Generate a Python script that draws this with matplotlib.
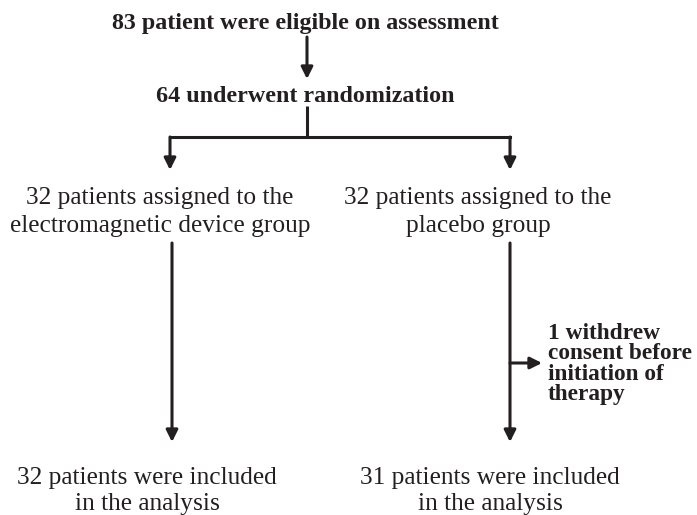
import matplotlib
matplotlib.use("Agg")
import matplotlib.pyplot as plt

# flowchart labels
top_label = "83 patient were eligible on assessment"
random_label = "64 underwent randomization"
group_labels = ["32 patients assigned to the\nelectromagnetic device group",
                "32 patients assigned to the\nplacebo group"]
withdrawn_label = "1 withdrew\nconsent before\ninitiation of\ntherapy"
analysis_labels = ["32 patients were included\nin the analysis",
                   "31 patients were included\nin the analysis"]

fig = plt.figure(figsize=(6.97, 5.15), dpi=100)
ax = fig.add_axes([0, 0, 1, 1])
ax.set_xlim(0, 697)
ax.set_ylim(515, 0)
ax.axis("off")

font = dict(family="Liberation Serif", color="#231f20")
lw = 2.2
col = "#231f20"


def arrow(x0, y0, x1, y1):
    ax.annotate("", xy=(x1, y1), xytext=(x0, y0),
                arrowprops=dict(arrowstyle="-|>,head_length=0.7,head_width=0.35",
                                lw=lw, color=col, shrinkA=0, shrinkB=0))


ax.text(305, 23, top_label, ha="center", va="center", fontsize=17.3, fontweight="bold", **font)
arrow(307, 37, 307, 79)
ax.text(305, 96, random_label, ha="center", va="center", fontsize=17.3, fontweight="bold", **font)

ax.plot([307, 307], [106, 138], color=col, lw=lw, solid_capstyle="butt")
ax.plot([170, 510], [137, 137], color=col, lw=lw, solid_capstyle="projecting")
arrow(170, 137, 170, 170)
arrow(510, 137, 510, 170)

ax.text(160, 212, group_labels[0], ha="center", va="center", fontsize=18.3,
        linespacing=1.35, **font)
ax.text(478, 212, group_labels[1], ha="center", va="center", fontsize=18.3,
        linespacing=1.35, **font)

arrow(172, 243, 172, 442)
arrow(510, 243, 510, 442)
arrow(510, 363, 542, 363)
ax.text(548, 364, withdrawn_label, ha="left", va="center", fontsize=16.8,
        fontweight="bold", linespacing=0.95, **font)

ax.text(147, 491, analysis_labels[0], ha="center", va="center", fontsize=18.3,
        linespacing=1.22, **font)
ax.text(490, 491, analysis_labels[1], ha="center", va="center", fontsize=18.3,
        linespacing=1.22, **font)

fig.savefig("out.png", dpi=100)
